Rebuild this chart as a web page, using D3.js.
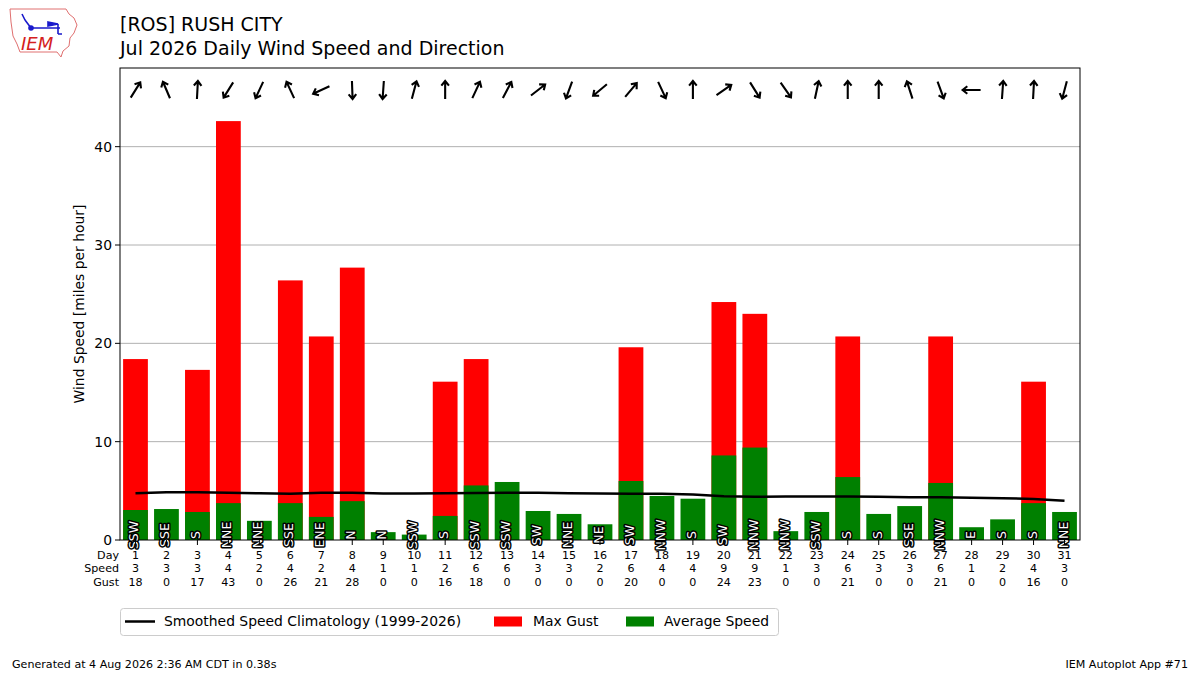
<!DOCTYPE html>
<html>
<head>
<meta charset="utf-8">
<title>Daily Wind Speed and Direction</title>
<script src="https://cdn.jsdelivr.net/npm/d3@7"></script>
<style>
  body { margin: 0; background: #fff; }
  svg text { font-family: "DejaVu Sans", sans-serif; }
</style>
</head>
<body>
<svg id="chart" width="1200" height="675"></svg>
<script>
// data
var days = [1,2,3,4,5,6,7,8,9,10,11,12,13,14,15,16,17,18,19,20,21,22,23,24,25,26,27,28,29,30,31];
var dirLabels = ["SSW","SSE","S","NNE","NNE","SSE","ENE","N","N","SSW","S","SSW","SSW","SW","NNE","NE",
                 "SW","NNW","S","SW","NNW","NNW","SSW","S","S","SSE","NNW","E","S","S","NNE"];
// direction wind is coming from, degrees
var dirDeg = [212,157,183,32,25,155,65,358,4,195,180,205,208,232,20,50,
              220,335,180,235,328,325,192,180,180,162,340,90,184,183,15];
var avgSpeed = [3.05,3.15,2.85,3.75,1.95,3.75,2.35,3.95,0.8,0.55,2.45,5.55,5.9,2.95,2.65,1.6,
                6.0,4.48,4.2,8.6,9.4,0.9,2.85,6.4,2.65,3.45,5.8,1.3,2.1,3.75,2.85];
var maxGust = [18.4,0,17.3,42.6,0,26.4,20.7,27.7,0,0,16.1,18.4,0,0,0,0,
               19.6,0,0,24.2,23.0,0,0,20.7,0,0,20.7,0,0,16.1,0];
var climo = [4.75,4.85,4.85,4.8,4.75,4.7,4.8,4.8,4.72,4.72,4.75,4.78,4.8,4.8,4.75,4.72,
             4.7,4.7,4.62,4.45,4.4,4.42,4.42,4.42,4.4,4.35,4.35,4.3,4.25,4.18,4.0];
var yTicks = [0,10,20,30,40];

var svg = d3.select('#chart');
var pl = 120, pr = 1080, pt = 68, pb = 540;  // plot box

var x = d3.scaleLinear().domain([0.5, 31.5]).range([pl, pr]);
var y = d3.scaleLinear().domain([0, 48]).range([pb, pt]);
var bw = (x(1.4) - x(0.6));

// titles
svg.append('text').attr('x', 120).attr('y', 31).attr('font-size', 19).text('[ROS] RUSH CITY');
svg.append('text').attr('x', 120).attr('y', 55).attr('font-size', 19).text('Jul 2026 Daily Wind Speed and Direction');

// grid
svg.append('g').selectAll('line').data(yTicks.slice(1)).enter().append('line')
  .attr('x1', pl).attr('x2', pr)
  .attr('y1', function(d){ return y(d); }).attr('y2', function(d){ return y(d); })
  .attr('stroke', '#b0b0b0').attr('stroke-width', 1);

// bars
svg.append('g').selectAll('rect').data(days).enter().append('rect')
  .attr('x', function(d){ return x(d) - bw/2; })
  .attr('width', bw)
  .attr('y', function(d, i){ return y(maxGust[i]); })
  .attr('height', function(d, i){ return pb - y(maxGust[i]); })
  .attr('fill', '#ff0000');
svg.append('g').selectAll('rect').data(days).enter().append('rect')
  .attr('x', function(d){ return x(d) - bw/2; })
  .attr('width', bw)
  .attr('y', function(d, i){ return y(avgSpeed[i]); })
  .attr('height', function(d, i){ return pb - y(avgSpeed[i]); })
  .attr('fill', '#008000');

// climatology
var line = d3.line().x(function(d){ return x(d); }).y(function(d, i){ return y(climo[i]); });
svg.append('path').datum(days).attr('d', line)
  .attr('fill', 'none').attr('stroke', '#000').attr('stroke-width', 2.5);

// frame
svg.append('rect').attr('x', pl).attr('y', pt).attr('width', pr - pl).attr('height', pb - pt)
  .attr('fill', 'none').attr('stroke', '#000').attr('stroke-width', 1);

// direction labels
svg.append('g').selectAll('text').data(days).enter().append('text')
  .attr('transform', function(d){ return 'translate(' + (x(d) - 1.5) + ',' + (y(0) - 5) + ') rotate(-90)'; })
  .attr('text-anchor', 'middle').attr('dy', '0.36em')
  .attr('font-size', 12.5)
  .attr('fill', '#fff').attr('stroke', '#000').attr('stroke-width', 3)
  .attr('paint-order', 'stroke').attr('stroke-linejoin', 'round')
  .text(function(d, i){ return dirLabels[i]; });

// direction arrows (pointing where the wind goes)
svg.append('g').selectAll('path').data(days).enter().append('path')
  .attr('transform', function(d, i){ return 'translate(' + x(d) + ',90) rotate(' + ((dirDeg[i] + 180) % 360) + ')'; })
  .attr('d', 'M0,9L0,-9M-3.8,-4.3L0,-9L3.8,-4.3')
  .attr('fill', 'none').attr('stroke', '#000').attr('stroke-width', 2.1)
  .attr('stroke-linecap', 'butt');

// y axis
var yAxis = svg.append('g');
yAxis.selectAll('line').data(yTicks).enter().append('line')
  .attr('x1', pl - 5).attr('x2', pl)
  .attr('y1', function(d){ return y(d); }).attr('y2', function(d){ return y(d); })
  .attr('stroke', '#000');
yAxis.selectAll('text').data(yTicks).enter().append('text')
  .attr('x', pl - 8).attr('y', function(d){ return y(d); }).attr('dy', '0.35em')
  .attr('text-anchor', 'end').attr('font-size', 13.9).text(function(d){ return d; });
svg.append('text').attr('transform', 'translate(84,' + ((pt + pb) / 2) + ') rotate(-90)')
  .attr('text-anchor', 'middle').attr('font-size', 13.9).text('Wind Speed [miles per hour]');

// x ticks and table
svg.append('g').selectAll('line').data(days).enter().append('line')
  .attr('x1', function(d){ return x(d); }).attr('x2', function(d){ return x(d); })
  .attr('y1', pb).attr('y2', pb + 5).attr('stroke', '#000');

var rows = [
  {name: 'Day', vals: days.map(function(d){ return d; })},
  {name: 'Speed', vals: avgSpeed.map(function(v){ return Math.round(v); })},
  {name: 'Gust', vals: maxGust.map(function(v){ return Math.round(v); })}
];
rows.forEach(function(r, j){
  var ry = 555 + j * 13.4;
  svg.append('text').attr('x', 119).attr('y', ry).attr('dy', '0.35em')
    .attr('text-anchor', 'end').attr('font-size', 11.1).text(r.name);
  svg.append('g').selectAll('text').data(days).enter().append('text')
    .attr('x', function(d){ return x(d); }).attr('y', ry).attr('dy', '0.35em')
    .attr('text-anchor', 'middle').attr('font-size', 11.1)
    .text(function(d, i){ return r.vals[i]; });
});

// legend
var lg = svg.append('g');
lg.append('rect').attr('x', 120.5).attr('y', 608.5).attr('width', 658).attr('height', 27)
  .attr('rx', 3).attr('fill', '#fff').attr('stroke', '#cccccc');
lg.append('line').attr('x1', 125).attr('x2', 155).attr('y1', 621.5).attr('y2', 621.5)
  .attr('stroke', '#000').attr('stroke-width', 2.5);
lg.append('text').attr('x', 164).attr('y', 621.5).attr('dy', '0.35em').attr('font-size', 13.9)
  .text('Smoothed Speed Climatology (1999-2026)');
lg.append('rect').attr('x', 494).attr('y', 616.5).attr('width', 28).attr('height', 10).attr('fill', '#ff0000');
lg.append('text').attr('x', 533).attr('y', 621.5).attr('dy', '0.35em').attr('font-size', 13.9).text('Max Gust');
lg.append('rect').attr('x', 626).attr('y', 616.5).attr('width', 28).attr('height', 10).attr('fill', '#008000');
lg.append('text').attr('x', 664).attr('y', 621.5).attr('dy', '0.35em').attr('font-size', 13.9).text('Average Speed');

// footer
svg.append('text').attr('x', 12).attr('y', 668).attr('font-size', 11.1)
  .text('Generated at 4 Aug 2026 2:36 AM CDT in 0.38s');
svg.append('text').attr('x', 1188).attr('y', 668).attr('text-anchor', 'end').attr('font-size', 11.1)
  .text('IEM Autoplot App #71');

// rough IEM logo
var logo = svg.append('g');
logo.append('path')
  .attr('d', 'M10,9L66,9L69,14L74,18L77,25L74,33L70,38L69,46L63,51L61,57L57,52L20,52L17,44L13,36L11,22Z')
  .attr('fill', '#fff').attr('stroke', '#e07070').attr('stroke-width', 1);
logo.append('path').attr('d', 'M31,28L60,28M31,28L25,20M25,20L22,14M48,22L58,24L48,26Z M58,24L58,34M58,34L62,34')
  .attr('fill', '#1a1acc').attr('stroke', '#1a1acc').attr('stroke-width', 1.6);
logo.append('circle').attr('cx', 31).attr('cy', 28).attr('r', 2.8).attr('fill', '#1a1acc');
logo.append('text').attr('x', 21).attr('y', 50).attr('font-family', 'Liberation Serif')
  .attr('font-style', 'italic').attr('font-size', 18).attr('fill', '#d42020').text('IEM');
</script>
</body>
</html>
